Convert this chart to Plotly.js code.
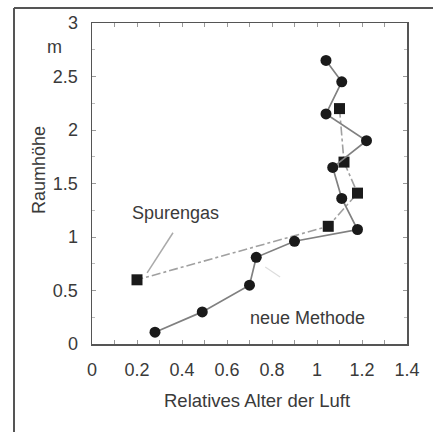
<!DOCTYPE html>
<html>
<head>
<meta charset="utf-8">
<script src="https://cdn.plot.ly/plotly-3.0.1.min.js"></script>
<style>html,body{margin:0;padding:0;background:#fff;}#chart{width:433px;height:432px;}</style>
</head>
<body>
<div id="chart"></div>
<script>
// neue Methode (circles)
const neueX = [1.04, 1.11, 1.04, 1.22, 1.07, 1.11, 1.18, 0.90, 0.73, 0.70, 0.49, 0.28];
const neueY = [2.65, 2.45, 2.15, 1.90, 1.65, 1.36, 1.07, 0.96, 0.81, 0.55, 0.30, 0.11];
// Spurengas (squares)
const spurX = [1.10, 1.12, 1.18, 1.05, 0.20];
const spurY = [2.20, 1.70, 1.41, 1.10, 0.60];
const xTicks = [0, 0.2, 0.4, 0.6, 0.8, 1, 1.2, 1.4];
const xTickText = ['0', '0.2', '0.4', '0.6', '0.8', '1', '1.2', '1.4'];
const yTicks = [0, 0.5, 1, 1.5, 2, 2.5, 3];
const yTickText = ['0', '0.5', '1', '1.5', '2', '2.5', '3'];

const font = {family: 'Liberation Sans, Arial, sans-serif', size: 18, color: '#3a3a3a'};
const titleFont = {family: 'Liberation Sans, Arial, sans-serif', size: 18.5, color: '#3a3a3a'};

const traces = [
  {x: spurX, y: spurY, type: 'scatter', mode: 'lines+markers', name: 'Spurengas',
   line: {color: '#a0a0a0', width: 1.6, dash: 'dashdot'},
   marker: {symbol: 'square', size: 11, color: '#1a1a1a'}},
  {x: neueX, y: neueY, type: 'scatter', mode: 'lines+markers', name: 'neue Methode',
   line: {color: '#808080', width: 1.7},
   marker: {symbol: 'circle', size: 11, color: '#1a1a1a'}}
];

const axisCommon = {
  showgrid: false, zeroline: false, showline: true, mirror: 'ticks',
  linecolor: '#555', linewidth: 1.5,
  ticks: 'inside', ticklen: 4, tickcolor: '#999', tickwidth: 1,
  tickfont: font, ticklabelstandoff: 9
};

const layout = {
  width: 433, height: 432,
  margin: {l: 92, r: 26, t: 23, b: 88},
  paper_bgcolor: '#fff', plot_bgcolor: '#fff',
  showlegend: false,
  font: font,
  xaxis: Object.assign({}, axisCommon, {
    range: [0, 1.4], tickvals: xTicks, ticktext: xTickText,
    minor: {dtick: 0.1, ticks: 'inside', ticklen: 4, tickcolor: '#999'},
    title: {text: ''}
  }),
  yaxis: Object.assign({}, axisCommon, {
    range: [0, 3], tickvals: yTicks, ticktext: yTickText,
    minor: {dtick: 0.25, ticks: 'inside', ticklen: 3, tickcolor: '#bbb'},
    title: {text: ''}
  }),
  annotations: [
    {xref: 'paper', yref: 'paper', x: (257 - 92) / 315, y: (344 - 400) / 321,
     text: 'Relatives Alter der Luft', showarrow: false, font: titleFont, xanchor: 'center', yanchor: 'middle'},
    {xref: 'paper', yref: 'paper', x: (39 - 92) / 315, y: (344 - 170) / 321,
     text: 'Raumhöhe', textangle: -90, showarrow: false, font: font, xanchor: 'center', yanchor: 'middle'},
    {xref: 'paper', yref: 'paper', x: (54 - 92) / 315, y: (344 - 47) / 321,
     text: 'm', showarrow: false, font: font, xanchor: 'center', yanchor: 'middle'},
    {xref: 'x', yref: 'y', x: 0.373, y: 1.224, text: 'Spurengas', showarrow: false, font: font,
     xanchor: 'center', yanchor: 'middle'},
    {xref: 'x', yref: 'y', x: 0.956, y: 0.243, text: 'neue Methode', showarrow: false, font: font,
     xanchor: 'center', yanchor: 'middle'}
  ],
  shapes: [
    {type: 'line', xref: 'x', yref: 'y', x0: 0.36, y0: 1.04, x1: 0.245, y1: 0.665,
     line: {color: '#aaa', width: 1.5}},
    {type: 'line', xref: 'x', yref: 'y', x0: 0.77, y0: 0.72, x1: 0.836, y1: 0.626,
     line: {color: '#ddd', width: 1.2}},
    {type: 'line', xref: 'paper', yref: 'paper', x0: (14 - 92) / 315, y0: (344 - 8) / 321,
     x1: (433 - 92) / 315, y1: (344 - 8) / 321, line: {color: '#555', width: 2}},
    {type: 'line', xref: 'paper', yref: 'paper', x0: (14 - 92) / 315, y0: (344 - 8) / 321,
     x1: (14 - 92) / 315, y1: (344 - 433) / 321, line: {color: '#555', width: 2}}
  ]
};

Plotly.newPlot('chart', traces, layout, {displayModeBar: false, staticPlot: true});
</script>
</body>
</html>
